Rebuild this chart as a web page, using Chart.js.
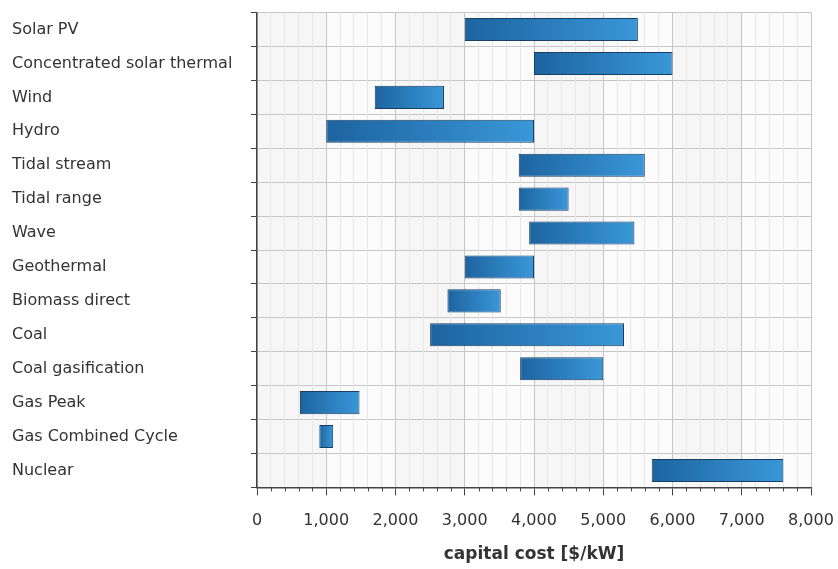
<!DOCTYPE html>
<html>
<head>
<meta charset="utf-8">
<script src="https://cdn.jsdelivr.net/npm/chart.js@4.4.1/dist/chart.umd.min.js"></script>
<style>
  html, body { margin: 0; padding: 0; background: #fff; }
  #wrap { width: 838px; height: 569px; }
</style>
</head>
<body>
<div id="wrap"><canvas id="kostenChart"></canvas></div>
<script>
// categorieen en kosten per technologie ($/kW)
const technologies = ['Solar PV', 'Concentrated solar thermal', 'Wind', 'Hydro', 'Tidal stream', 'Tidal range', 'Wave',
  'Geothermal', 'Biomass direct', 'Coal', 'Coal gasification', 'Gas Peak', 'Gas Combined Cycle', 'Nuclear'];
const lowCost  = [3000, 4000, 1700, 1000, 3780, 3780, 3930, 3000, 2750, 2500, 3800, 620, 900, 5700];
const highCost = [5500, 6000, 2700, 4000, 5600, 4500, 5450, 4000, 3520, 5300, 5000, 1480, 1100, 7600];

const xMin = 0;
const xMax = 8000;
const xStep = 200;      // kleine gridlijnen
const xMajor = 1000;    // grote gridlijnen + labels
const xTitle = 'capital cost [$/kW]';

// achtergrond banden tussen de grote gridlijnen
const bandPlugin = {
  id: 'banden',
  beforeDraw(chart) {
    const { ctx, chartArea, scales } = chart;
    ctx.save();
    for (let v = xMin; v < xMax; v += xMajor) {
      const a = scales.x.getPixelForValue(v);
      const b = scales.x.getPixelForValue(v + xMajor);
      ctx.fillStyle = ((v / xMajor) % 2 === 0) ? '#f6f6f6' : '#fbfbfb';
      ctx.fillRect(a, chartArea.top, b - a, chartArea.bottom - chartArea.top);
    }
    ctx.restore();
  }
};

// kleine tickjes onder de x-as
const kleineTicks = {
  id: 'kleineTicks',
  afterDraw(chart) {
    const { ctx, scales } = chart;
    const x = scales.x;
    ctx.save();
    ctx.strokeStyle = '#444';
    ctx.lineWidth = 1;
    x.ticks.forEach((t, i) => {
      if (t.value % xMajor === 0) return;
      const px = Math.round(x.getPixelForTick(i)) + 0.5;
      ctx.beginPath();
      ctx.moveTo(px, x.top);
      ctx.lineTo(px, x.top + 4);
      ctx.stroke();
    });
    ctx.restore();
  }
};

function balkKleur(context) {
  const chart = context.chart;
  const { ctx, chartArea, scales } = chart;
  if (!chartArea) return '#2a7fc0';
  const i = context.dataIndex;
  const x0 = scales.x.getPixelForValue(lowCost[i]);
  const x1 = scales.x.getPixelForValue(highCost[i]);
  const g = ctx.createLinearGradient(x0, 0, x1, 0);
  g.addColorStop(0, '#1d64a0');
  g.addColorStop(1, '#3a97d8');
  return g;
}

const ctx = document.getElementById('kostenChart').getContext('2d');
const kostenChart = new Chart(ctx, {
  type: 'bar',
  data: {
    labels: technologies,
    datasets: [{
      label: 'capital cost',
      data: technologies.map((t, i) => [lowCost[i], highCost[i]]),
      backgroundColor: balkKleur,
      borderColor: '#183f63',
      borderWidth: 1,
      borderSkipped: false,
      barPercentage: 0.68,
      categoryPercentage: 1
    }]
  },
  options: {
    indexAxis: 'y',
    responsive: true,
    maintainAspectRatio: false,
    animation: false,
    layout: { padding: { left: 12, top: 10, right: 27, bottom: 4 } },
    plugins: {
      legend: { display: false },
      tooltip: { enabled: false }
    },
    scales: {
      y: {
        offset: true,
        afterFit(scale) { scale.width = 245; },
        grid: { offset: true, color: '#c6c6c6', tickColor: '#444', tickLength: 6 },
        border: { color: '#444', width: 1.5 },
        ticks: {
          crossAlign: 'far',
          color: '#333',
          font: { family: 'DejaVu Sans', size: 16 }
        }
      },
      x: {
        min: xMin,
        max: xMax,
        afterFit(scale) { scale.paddingRight = 0; scale.paddingLeft = 0; },
        grid: {
          color: c => (c.tick && c.tick.value % xMajor === 0) ? '#c6c6c6' : '#e6e6e6',
          tickColor: c => (c.tick && c.tick.value % xMajor === 0) ? '#444' : 'rgba(0,0,0,0)',
          tickLength: 8
        },
        border: { color: '#444', width: 1.5 },
        ticks: {
          stepSize: xStep,
          autoSkip: false,
          maxRotation: 0,
          padding: 16,
          color: '#333',
          font: { family: 'DejaVu Sans', size: 16 },
          callback: v => (v % xMajor === 0) ? v.toLocaleString('en-US') : ''
        },
        title: {
          display: true,
          text: xTitle,
          color: '#333',
          font: { family: 'DejaVu Sans', size: 17, weight: 'bold' },
          padding: { top: -2, bottom: 0 }
        }
      }
    }
  },
  plugins: [bandPlugin, kleineTicks]
});
</script>
</body>
</html>
